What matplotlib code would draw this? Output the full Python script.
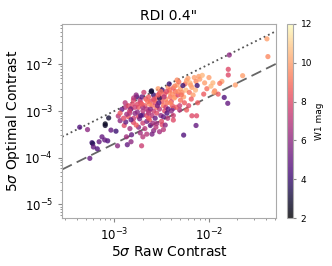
import matplotlib
matplotlib.use('Agg')
import matplotlib.pyplot as plt
import numpy as np

# ── Data ──
raw_contrast = [
    4.3e-4, 5.2e-4, 5.8e-4, 5.9e-4, 6.0e-4, 6.6e-4, 5.5e-4, 8.0e-4, 8.0e-4, 8.7e-4,
    7.4e-4, 8.5e-4, 7.9e-4, 6.9e-4, 9.2e-4, 1.04e-3, 1.08e-3, 1.1e-3, 1.15e-3, 1.27e-3,
    1.32e-3, 1.34e-3, 1.37e-3, 1.5e-3, 1.52e-3, 1.46e-3, 1.59e-3, 1.4e-3, 1.31e-3, 1.2e-3,
    1.49e-3, 1.59e-3, 1.72e-3, 1.87e-3, 1.94e-3, 1.88e-3, 2.0e-3, 2.2e-3, 1.8e-3, 1.65e-3,
    2.0e-3, 2.3e-3, 2.35e-3, 2.4e-3, 2.6e-3, 2.8e-3, 3.2e-3, 3.0e-3, 3.66e-3, 4.2e-3,
    5.4e-3, 6.6e-3, 7.3e-3, 7.4e-3, 5.8e-3, 4.9e-3, 4.2e-3,
    # dense core
    1.3e-3, 1.4e-3, 1.45e-3, 1.5e-3, 1.55e-3, 1.35e-3, 1.6e-3, 1.5e-3, 1.25e-3, 1.6e-3,
    1.7e-3, 1.8e-3, 1.9e-3, 2.0e-3, 2.1e-3, 1.75e-3, 1.85e-3, 2.0e-3, 2.2e-3, 1.95e-3,
    2.15e-3, 2.05e-3, 1.8e-3, 2.2e-3, 2.1e-3, 1.7e-3, 2.2e-3, 1.9e-3,
    2.3e-3, 2.4e-3, 2.5e-3, 2.6e-3, 2.7e-3, 2.4e-3, 2.8e-3, 2.5e-3, 2.7e-3, 2.3e-3,
    2.6e-3, 2.8e-3, 2.45e-3, 2.55e-3, 2.75e-3, 2.35e-3, 2.65e-3, 2.5e-3, 2.8e-3,
    2.9e-3, 3.0e-3, 3.1e-3, 3.2e-3, 3.3e-3, 3.0e-3, 3.4e-3, 3.5e-3, 3.1e-3, 3.3e-3,
    3.5e-3, 2.95e-3, 3.2e-3, 3.4e-3, 3.6e-3, 3.15e-3, 3.45e-3, 3.0e-3, 3.6e-3, 3.3e-3,
    3.7e-3, 3.8e-3, 3.9e-3, 4.0e-3, 4.1e-3, 4.3e-3, 4.4e-3, 3.8e-3, 4.0e-3, 4.2e-3,
    4.5e-3, 3.9e-3, 4.2e-3, 4.4e-3, 3.7e-3, 4.1e-3,
    4.6e-3, 4.8e-3, 5.0e-3, 5.2e-3, 5.4e-3, 5.6e-3, 5.0e-3, 5.3e-3, 4.7e-3, 5.7e-3,
    5.5e-3, 4.9e-3, 5.8e-3, 4.6e-3,
    6.0e-3, 6.3e-3, 6.6e-3, 7.0e-3, 7.3e-3, 6.2e-3, 6.8e-3, 7.5e-3, 7.8e-3, 6.5e-3,
    7.2e-3, 8.0e-3, 6.1e-3, 7.6e-3,
    8.5e-3, 9.0e-3, 1.0e-2, 1.1e-2, 1.15e-2, 9.5e-3, 1.05e-2, 8.8e-3,
    # high-contrast tail
    4.1e-2, 4.2e-2, 1.64e-2, 1.6e-2, 1.6e-2, 2.27e-2, 1.9e-2, 1.37e-2, 1.3e-2, 1.25e-2,
    1.45e-2, 1.58e-2, 1.13e-2,
    # extra core points
    2.47e-3, 1.65e-3, 1.75e-3, 2.25e-3, 2.9e-3, 3.35e-3, 3.85e-3, 4.35e-3, 2.0e-3, 2.6e-3,
    3.1e-3, 1.45e-3, 1.15e-3, 2.85e-3, 3.55e-3, 4.7e-3, 5.1e-3, 6.4e-3, 2.3e-3, 1.95e-3,
]
opt_contrast = [
    4.5e-4, 4.0e-4, 2.1e-4, 2.0e-4, 1.7e-4, 1.55e-4, 9.7e-5, 5.3e-4, 4.9e-4, 7.1e-4,
    2.8e-4, 2.3e-4, 2.4e-4, 2.2e-4, 3.9e-4, 3.7e-4, 1.8e-4, 7.8e-4, 6.2e-4, 4.9e-4,
    5.8e-4, 2.8e-4, 1.9e-4, 2.2e-4, 3.1e-4, 4.2e-4, 5.7e-4, 7.6e-4, 1.2e-3, 1.08e-3,
    1.12e-3, 1.7e-3, 2.0e-3, 1.7e-3, 1.8e-4, 3.4e-4, 2.8e-4, 3.2e-4, 7.6e-4, 8.9e-4,
    8.2e-4, 1.0e-3, 6.4e-4, 4.9e-4, 3.8e-4, 5.4e-4, 5.1e-4, 3.6e-4, 7.0e-4, 6.4e-4,
    3.05e-4, 7.9e-4, 4.9e-4, 7.9e-4, 1.05e-3, 1.05e-3, 1.14e-3,
    1.5e-3, 1.3e-3, 9.0e-4, 1.1e-3, 1.4e-3, 8.5e-4, 7.0e-4, 6.5e-4, 7.0e-4, 1.9e-3,
    2.2e-3, 1.2e-3, 1.5e-3, 1.0e-3, 1.3e-3, 9.5e-4, 6.8e-4, 5.5e-4, 8.0e-4, 2.0e-3,
    1.8e-3, 2.5e-3, 4.5e-4, 6.0e-4, 4.2e-4, 5.0e-4, 1.1e-3, 8.0e-4,
    2.0e-3, 1.6e-3, 1.3e-3, 1.0e-3, 1.5e-3, 1.1e-3, 1.2e-3, 8.0e-4, 7.0e-4, 7.0e-4,
    2.2e-3, 1.9e-3, 2.6e-3, 5.5e-4, 4.5e-4, 1.4e-3, 1.7e-3, 3.2e-4, 9.0e-4,
    3.0e-3, 2.4e-3, 2.0e-3, 1.6e-3, 1.3e-3, 1.1e-3, 1.0e-3, 1.8e-3, 8.0e-4, 7.5e-4,
    1.2e-3, 1.5e-3, 2.8e-3, 2.3e-3, 1.5e-3, 6.0e-4, 5.0e-4, 1.9e-3, 9.0e-4, 4.0e-4,
    3.2e-3, 2.5e-3, 2.0e-3, 1.6e-3, 1.3e-3, 1.9e-3, 2.6e-3, 3.8e-3, 1.0e-3, 8.0e-4,
    1.2e-3, 1.5e-3, 3.1e-3, 2.0e-3, 1.1e-3, 2.3e-3,
    3.6e-3, 4.2e-3, 3.0e-3, 2.5e-3, 2.0e-3, 3.8e-3, 1.7e-3, 3.5e-3, 2.2e-3, 2.8e-3,
    1.5e-3, 1.3e-3, 4.5e-3, 4.6e-3,
    5.0e-3, 4.0e-3, 3.2e-3, 5.2e-3, 4.3e-3, 2.5e-3, 2.2e-3, 3.5e-3, 5.5e-3, 1.8e-3,
    2.8e-3, 4.8e-3, 1.3e-3, 1.5e-3,
    5.8e-3, 4.0e-3, 5.2e-3, 4.0e-3, 2.7e-3, 3.0e-3, 3.4e-3, 2.3e-3,
    3.5e-2, 1.46e-2, 1.58e-2, 7.8e-3, 5.9e-3, 5.7e-3, 3.6e-3, 4.3e-3, 3.9e-3, 2.3e-3,
    1.95e-3, 1.46e-3, 2.5e-3,
    2.7e-3, 1.2e-3, 1.4e-3, 1.6e-3, 2.2e-3, 2.0e-3, 2.8e-3, 3.4e-3, 1.2e-3, 1.8e-3,
    2.6e-3, 1.0e-3, 9.0e-4, 1.3e-3, 2.6e-3, 2.6e-3, 2.2e-3, 3.6e-3, 9.0e-4, 1.4e-3,
]
w1_mag = [
    4.5, 6.0, 4.0, 3.5, 5.0, 4.5, 5.0, 2.5, 2.8, 3.0,
    5.0, 4.5, 5.0, 5.0, 5.0, 4.0, 6.0, 7.0, 6.0, 8.0,
    5.0, 6.5, 5.0, 6.0, 5.0, 6.5, 8.0, 8.5, 7.0, 5.0,
    3.5, 8.0, 4.0, 7.0, 7.5, 6.5, 7.0, 7.0, 8.0, 6.0,
    5.0, 7.0, 8.5, 5.0, 6.0, 6.5, 8.0, 6.5, 7.0, 8.0,
    4.5, 8.0, 5.0, 8.0, 8.5, 7.0, 5.0,
    7.0, 8.0, 7.0, 6.0, 8.0, 6.5, 7.5, 5.0, 8.0, 7.0,
    6.0, 8.5, 8.0, 7.0, 8.5, 6.0, 5.5, 7.5, 8.0, 5.0,
    8.5, 7.5, 6.0, 5.5, 7.0, 8.5, 7.0, 4.5,
    8.5, 8.0, 9.0, 7.5, 8.0, 6.0, 9.0, 7.0, 5.0, 8.5,
    4.0, 8.5, 3.0, 6.5, 7.0, 9.5, 9.0, 5.5, 8.0,
    10.0, 8.0, 9.0, 8.5, 9.0, 7.0, 8.0, 9.5, 6.0, 5.0,
    7.5, 4.5, 4.0, 8.5, 9.0, 8.0, 6.0, 3.5, 4.5, 7.0,
    9.5, 10.0, 9.0, 8.0, 8.5, 10.0, 9.0, 4.0, 6.0, 7.5,
    8.5, 9.5, 8.5, 10.0, 5.0, 9.5,
    10.0, 9.0, 10.0, 9.5, 10.0, 9.0, 9.0, 4.0, 8.0, 10.5,
    8.5, 7.5, 10.0, 9.5,
    10.0, 10.5, 10.0, 10.0, 9.5, 9.0, 10.0, 4.0, 10.0, 8.5,
    10.5, 10.0, 8.0, 8.5,
    10.5, 10.0, 10.0, 10.5, 9.5, 9.0, 10.5, 8.5,
    10.0, 9.5, 6.0, 8.0, 8.0, 10.0, 10.0, 10.0, 9.0, 8.5,
    4.5, 5.0, 10.0,
    3.0, 7.5, 8.0, 9.0, 8.5, 7.0, 9.0, 9.5, 6.5, 8.0,
    9.0, 7.5, 8.5, 5.5, 8.0, 9.5, 9.0, 10.0, 7.0, 8.5,
]

x_line = [2.8e-4, 5.1e-2]
ratio_line = 0.2

plt.rcParams['font.family'] = 'DejaVu Sans'

fig = plt.figure(figsize=(3.32, 2.66), dpi=100)
ax = fig.add_axes([0.187, 0.18, 0.644, 0.73])
cax = fig.add_axes([0.864, 0.18, 0.019, 0.73])

sc = ax.scatter(raw_contrast, opt_contrast, c=w1_mag, cmap='magma', vmin=2, vmax=12,
                s=14, alpha=0.8, linewidths=0, zorder=3)

# 1:1 line and fixed-ratio line
ax.plot(x_line, x_line, ls=':', color='#555555', lw=1.3, zorder=2)
ax.plot(x_line, [v * ratio_line for v in x_line], ls=(0, (6, 3)), color='#666666',
        lw=1.3, zorder=2)

ax.set_xscale('log')
ax.set_yscale('log')
ax.set_xlim(2.8e-4, 5.1e-2)
ax.set_ylim(5.1e-6, 7.3e-2)
ax.set_yticks([1e-5, 1e-4, 1e-3, 1e-2])

ax.set_title('RDI 0.4"', fontsize=10, pad=3)
ax.set_xlabel(r'5$\sigma$ Raw Contrast', fontsize=10, labelpad=1)
ax.set_ylabel(r'5$\sigma$ Optimal Contrast', fontsize=10, labelpad=2)
ax.tick_params(which='both', colors='#888888', labelcolor='black', labelsize=8.5)
ax.tick_params(which='major', length=3)
ax.tick_params(which='minor', length=1.5)
for sp in ax.spines.values():
    sp.set_color('#aaaaaa')

cb = fig.colorbar(sc, cax=cax)
cb.set_ticks([2, 4, 6, 8, 10, 12])
cb.ax.tick_params(labelsize=6.5, length=2, colors='#888888', labelcolor='black')
cb.set_label('W1 mag', fontsize=6.5, labelpad=2)
cb.outline.set_edgecolor('#aaaaaa')

fig.savefig('out.png', dpi=100, facecolor='white')
